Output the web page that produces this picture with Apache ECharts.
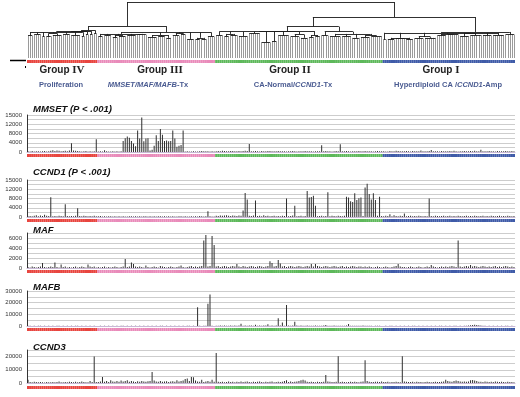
<!DOCTYPE html>
<html><head><meta charset="utf-8">
<script src="https://cdn.jsdelivr.net/npm/echarts@6/dist/echarts.min.js"></script>
<style>html,body{margin:0;padding:0;background:#fff}#c{width:520px;height:397px}</style>
</head><body><div id="c"></div>
<script>
// ---------------- data ----------------
const groupSizes = [34, 57, 81, 64];
const groupWords = ['Group', 'Group', 'Group', 'Group'];
const groupNumerals = ['IV', 'III', 'II', 'I'];
const groupSubtitles = [
  '{n|Proliferation}',
  '{i|MMSET/MAF/MAFB}{n|-Tx}',
  '{n|CA-Normal/}{i|CCND1}{n|-Tx}',
  '{n|Hyperdiploid CA /}{i|CCND1}{n|-Amp}'
];
const panelTitles = ['MMSET (P < .001)', 'CCND1 (P < .001)', 'MAF', 'MAFB', 'CCND3'];
const mmsetTicks = ['0', '4000', '8000', '12000', '15000'];
const ccnd1Ticks = ['0', '4000', '8000', '12000', '15000'];
const mafTicks = ['0', '2000', '4000', '6000'];
const mafbTicks = ['0', '10000', '20000', '30000'];
const ccnd3Ticks = ['0', '10000', '20000'];

const mmset = [
300,200,400,250,300,350,200,300,400,250, 300,500,800,400,600,500,350,400,500,300,
600,3800,700,500,400,300,250,300,400,200, 300,250,300,5500,
200,300,250,800,300,200,250,300,200,300,250,300,
4800,6000,6700,6200,4800,3700,2500,9300,5800,14900,4600,5800,6000,600,1000,
2700,7200,4800,10000,7500,4800,5000,4600,4800,9300,5800,2300,2700,3000,9300,
200,300,250,200,300,200,250,300,400,300,350,300,250,300,200,
300,400,300,500,400,350,300,450,400,300, 350,400,300,450,500,400,3500,300,350,400,
300,250,400,350,300,450,400,300,350,300, 400,300,350,300,250,300,350,400,300,250,
300,350,300,400,300,350,300,250,300,350, 300,2900,300,400,350,300,250,300,400,300,
3400,300,350,400,300,250,300,350,300,400, 350,300,400,300,350,300,250,300,400,350,300,
300,200,250,400,300,350,500,400,300,350, 300,450,300,250,400,300,350,300,600,300,
350,300,400,900,300,350,300,250,400,300, 300,350,400,300,500,300,250,350,300,400,
350,300,400,300,500,350,300,1000,300,350, 300,400,350,300,250,400,300,350,300,400,300,350,400,300
];
const ccnd1 = [
300,400,300,500,800,300,600,400,1000,500, 400,8500,300,400,300,500,400,300,5500,400,
300,400,300,500,3800,400,300,500,400,300, 400,300,500,300,
300,400,250,300,200,300,350,250,300,200,300,250, 300,200,250,300,350,200,300,250,300,200,350,300,
250,300,200,300,250,350,300,200,300,250,300,200, 300,250,200,300,350,250,300,200,250,300,200,
300,250,400,300,200,300,2500,300,250,200,
500,400,700,500,600,800,500,400,600,500, 400,600,500,2800,10400,7600,500,400,600,7100,
400,500,300,800,400,500,300,400,500,300, 400,300,500,400,8000,300,400,600,4900,300,
400,500,300,400,11200,8400,8700,9200,4900,300, 400,500,300,400,10700,300,500,400,300,500,
400,300,500,8800,8400,6800,6500,10300,7300,8100, 8400,400,12800,14400,10000,7600,10300,7300,500,8800,400,
300,500,400,1200,300,800,400,300,500,400, 1500,300,400,500,300,400,300,500,400,300,
400,300,8000,400,300,500,400,300,400,500, 300,400,500,300,400,300,500,400,300,400,
500,300,400,300,500,400,300,400,500,300, 400,300,500,400,300,400,500,300,400,300,500,400,300,400
];
const maf = [
200,100,300,200,100,200,300,1000,200,100, 200,300,200,1100,200,100,700,200,300,100,
200,100,200,300,100,200,300,200,100,700, 300,200,300,100,
200,100,200,300,100,200,100,200,300,200,100,200, 300,1800,200,300,1100,800,300,200,300,200,100,500,
200,100,200,300,200,100,400,300,200,100,200,300, 200,100,200,300,500,200,100,200,300,400,200,
300,200,300,400,5500,6600,300,400,6400,4600,
300,400,200,300,400,300,200,300,400,300, 800,300,200,400,300,200,300,400,300,200,
300,400,300,200,300,400,1350,1000,300,400, 1600,900,300,400,200,300,400,300,200,300,
400,300,200,300,400,300,800,300,800,400, 300,200,300,400,300,200,300,400,300,200,
300,400,200,300,200,300,400,300,200,300, 300,200,300,200,300,200,100,200,300,200,100,
200,300,200,100,200,300,400,800,300,200, 200,100,200,300,200,100,200,300,200,100,
200,300,200,600,300,200,100,200,300,200, 300,200,300,400,300,200,5500,300,200,300,
400,300,600,300,400,300,200,300,400,300, 200,300,200,300,400,200,300,200,300,400,300,200,300,200
];
const mafb = [
300,200,100,200,100,200,300,100,200,100, 200,100,200,100,300,200,100,200,100,200,
100,200,100,200,300,100,200,100,200,100, 200,100,200,100,
100,200,100,200,100,200,100,200,100,200,100,200, 200,100,200,100,200,100,300,100,200,100,200,100,
200,100,200,100,200,100,200,300,100,200,100,200, 100,200,100,200,100,200,100,200,300,100,200,
100,16000,200,100,200,300,19000,27000,200,100,
300,200,400,300,500,300,200,400,300,500, 300,400,2000,300,400,300,500,400,300,1000,
300,400,300,500,400,1500,300,400,300,500, 6600,400,2900,300,18000,400,300,500,3700,400,
300,400,300,200,400,300,200,300,400,300, 200,300,400,800,300,200,300,400,300,200,
300,200,300,400,1700,300,200,300,200,300, 200,500,300,200,300,200,100,200,300,200,100,
100,200,100,200,300,100,200,100,200,100, 200,100,200,100,200,300,100,200,100,200,
100,200,100,200,100,200,100,200,300,100, 200,100,200,100,200,300,100,200,100,200,
300,400,600,900,1000,800,700,400,300,200, 100,200,100,200,100,200,100,200,100,200,300,100,200,100
];
const ccnd3 = [
2400,800,600,1000,700,500,800,600,400,700, 500,600,800,500,700,1200,600,500,800,600,
900,700,500,1000,600,800,1200,700,600,500, 1500,800,20000,700,
800,1200,4600,1000,1500,800,2000,1200,900,1500,1000,1800, 1200,1500,2000,1000,1500,1200,800,1400,1000,1600,1200,900,
1300,1500,8300,1800,1200,1000,1500,900,1200,1400,800,1100, 1300,1000,2000,1200,1500,1800,3000,3500,1600,4600,4400,
1800,1200,1000,2500,800,1200,1500,900,2500,1000,
22700,900,700,1000,600,800,1200,700,900,600, 1000,800,1200,700,900,1100,800,600,1000,700,
900,1200,800,600,1000,700,900,1100,600,800, 1000,700,900,1500,2000,800,1100,700,900,1200,
1500,2000,2500,1800,900,800,1000,700,600,900, 800,700,1000,6000,1200,900,800,700,1000,20200,
800,900,700,600,800,900,700,1000,800,600, 900,1200,17200,1500,1000,800,700,900,1000,800,1200,
800,700,900,600,800,700,1000,800,600,20200, 1200,900,700,800,1000,600,900,700,800,600,
700,900,800,600,700,1000,800,700,900,1100, 2500,1500,1200,1000,1500,1800,1600,1200,900,1100,
1000,1200,2000,2200,1800,1500,1000,900,800,1200, 900,700,1000,800,1200,900,700,1000,800,600,900,700,800,600
];

// dendrogram: node = [mergeHeight, child...]; a number child = that many leaves joined directly
const treeIV = [49.5, [48, [47,
  [46,[40,3],[42,4],[38,2],[44,[39,3],[41,5]],[43,4],[41,5],[39,2]],
  [42,2]], [43,2]], [44,2]];
const treeIII = [46,
  [43,[38,3],[40,4],[41,[37,3],[39,4]],[40,5],[42,5]],
  [41,[37,5],[39,4],[36,3]], [44,[40,4],[42,3]], [34,4], [36,[33,3],[34,3]], [38,4]];
const treeII = [56,
  [48, [47,[40,4],[43,[38,3],[41,4]],[39,5],[44,6],[28,5],[30,3],[40,6],[42,[38,5],[36,4]]],
       [41,[37,3],[39,3]]],
  [47, [40,4], [43,[38,6],[39,5],[36,4],[40,[37,5],[38,6]]]]];
const treeI = [46.5,
  [45,[33,2],[36,[33,4],[35,5],[34,4]],[38,[35,5],[36,6]],[43,[40,5],[42,6]],[44,[39,5],[41,6]],[40,5],[41,6]],
  [42,5]];
const treeTop = [100, [57, treeIV, treeIII], [73, treeII, treeI]];

// ---------------- build ----------------
const N = mmset.length;
const groupColors = ['#e8453f', '#e98bba', '#5db85a', '#3f5ba8'];
const groupOf = [];
groupSizes.forEach((s, g) => { for (let k = 0; k < s; k++) groupOf.push(g); });

const leafSegs = [], innerSegs = [];
const st = { i: 0 };
function lay(node) {
  const h = node[0], xs = [];
  for (let k = 1; k < node.length; k++) {
    const c = node[k];
    if (typeof c === 'number') {
      for (let j = 0; j < c; j++) { const x = st.i + 0.5; st.i++; leafSegs.push({ coords: [[x, 0], [x, h]] }); xs.push(x); }
    } else {
      const r = lay(c);
      innerSegs.push({ coords: [[r.x, r.h], [r.x, h]] });
      xs.push(r.x);
    }
  }
  const x0 = Math.min(...xs), x1 = Math.max(...xs);
  innerSegs.push({ coords: [[x0, h], [x1, h]] });
  return { x: (x0 + x1) / 2, h: h };
}
lay(treeTop);

// ---------------- layout ----------------
const L = 27, W = 488;
const groupLabelX = [62, 160, 290, 441];
const groupSubX = [61, 148, 293, 448];
const panels = [
  { data: mmset, ticks: mmsetTicks, max: 16000, interval: 2000, step: 2, top: 115, h: 37, strip: 154, titleTop: 104 },
  { data: ccnd1, ticks: ccnd1Ticks, max: 16000, interval: 2000, step: 2, top: 180, h: 37, strip: 219, titleTop: 167 },
  { data: maf, ticks: mafTicks, max: 7000, interval: 1000, step: 2, top: 233, h: 35, strip: 270, titleTop: 225 },
  { data: mafb, ticks: mafbTicks, max: 30000, interval: 5000, step: 2, top: 291, h: 35, strip: 328, titleTop: 282 },
  { data: ccnd3, ticks: ccnd3Ticks, max: 25000, interval: 5000, step: 2, top: 350, h: 33, strip: 386, titleTop: 342 }
];
const cats = Array.from({ length: N }, (_, i) => 's' + (i + 1));
const stripData = groupOf.map(g => ({ value: 1, itemStyle: { color: groupColors[g] } }));

const grid = [], xAxis = [], yAxis = [], series = [], title = [];
function addGrid(g, xa, ya) { grid.push(g); xAxis.push(Object.assign({ gridIndex: grid.length - 1 }, xa)); yAxis.push(Object.assign({ gridIndex: grid.length - 1 }, ya)); return grid.length - 1; }
const hiddenCat = { type: 'category', data: cats, axisLine: { show: false }, axisTick: { show: false }, axisLabel: { show: false } };
function addStrip(y) {
  const gi = addGrid({ left: L, width: W, top: y, height: 3 }, hiddenCat,
    { type: 'value', min: 0, max: 1, show: false, splitLine: { show: false } });
  series.push({ type: 'bar', xAxisIndex: gi, yAxisIndex: gi, data: stripData, barCategoryGap: '0%', barWidth: '101%', silent: true, animation: false });
}

// dendrogram
const dg = addGrid({ left: L, width: W, top: 2, height: 56 },
  { type: 'value', min: 0, max: N, show: false, splitLine: { show: false } },
  { type: 'value', min: 0, max: 100, show: false, splitLine: { show: false } });
series.push({ type: 'lines', coordinateSystem: 'cartesian2d', xAxisIndex: dg, yAxisIndex: dg, data: leafSegs, lineStyle: { color: '#8f8f8f', width: 0.9, opacity: 1 }, silent: true, animation: false });
series.push({ type: 'lines', coordinateSystem: 'cartesian2d', xAxisIndex: dg, yAxisIndex: dg, data: innerSegs, lineStyle: { color: '#1a1a1a', width: 0.9, opacity: 1 }, silent: true, animation: false });
addStrip(60);

// group labels
const subRich = {
  n: { fontFamily: 'Liberation Sans', fontWeight: 'bold', fontSize: 7.5, color: '#4a5b91' },
  i: { fontFamily: 'Liberation Sans', fontWeight: 'bold', fontStyle: 'italic', fontSize: 7.5, color: '#4a5b91' }
};
groupWords.forEach((t, g) => {
  title.push({ text: '{w|' + t + ' }{r|' + groupNumerals[g] + '}', left: groupLabelX[g], top: 65, textAlign: 'center', padding: 0,
    textStyle: { rich: {
      w: { fontFamily: 'Liberation Sans', fontWeight: 'bold', fontSize: 10, color: '#222' },
      r: { fontFamily: 'Liberation Serif', fontWeight: 'bold', fontSize: 11, color: '#222' } } } });
  title.push({ text: groupSubtitles[g], left: groupSubX[g], top: 81, textAlign: 'center', padding: 0,
    textStyle: { rich: subRich } });
});

// bar panels
panels.forEach((p, k) => {
  const gi = addGrid({ left: L, width: W, top: p.top, height: p.h },
    Object.assign({}, hiddenCat, { axisLine: { show: true, lineStyle: { color: '#c9b8d6', width: 1 } } }),
    { type: 'value', min: 0, max: p.max, interval: p.interval,
      axisLine: { show: true, lineStyle: { color: '#333', width: 1 } }, axisTick: { show: false },
      splitLine: { show: true, lineStyle: { color: '#cdcdcd', width: 1 } },
      axisLabel: { fontSize: 6, color: '#333', margin: 5, fontFamily: 'Liberation Sans',
        formatter: (v, idx) => (idx % p.step === 0 && p.ticks[idx / p.step] !== undefined) ? p.ticks[idx / p.step] : '' } });
  series.push({ type: 'bar', xAxisIndex: gi, yAxisIndex: gi, data: p.data, barWidth: 1, itemStyle: { color: '#2e2e2e' }, silent: true, animation: false });
  addStrip(p.strip);
  title.push({ text: panelTitles[k], left: 33, top: p.titleTop, padding: 0,
    textStyle: { fontFamily: 'Liberation Sans', fontWeight: 'bold', fontStyle: 'italic', fontSize: 9.5, color: '#111' } });
});

const chart = echarts.init(document.getElementById('c'), null, { renderer: 'canvas' });
chart.setOption({
  backgroundColor: '#fff', animation: false, title, grid, xAxis, yAxis, series,
  graphic: [
    { type: 'line', shape: { x1: 10, y1: 60.5, x2: 26, y2: 60.5 }, style: { stroke: '#000', lineWidth: 1.5 } },
    { type: 'rect', shape: { x: 25, y: 66, width: 1, height: 2 }, style: { fill: '#000' } }
  ]
});
</script></body></html>
